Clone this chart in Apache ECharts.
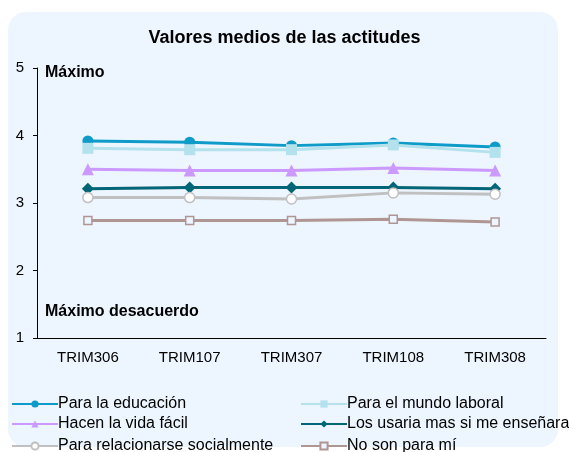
<!DOCTYPE html>
<html>
<head>
<meta charset="utf-8">
<script src="https://cdn.jsdelivr.net/npm/echarts@6/dist/echarts.min.js"></script>
<style>
  html, body { margin: 0; padding: 0; background: #fff; }
  #chart { width: 569px; height: 452px; }
</style>
</head>
<body>
<div id="chart"></div>
<script>
// trimestres
const categories = ['TRIM306', 'TRIM107', 'TRIM307', 'TRIM108', 'TRIM308']
const yTicks = [1, 2, 3, 4, 5]

const educacion = [3.92, 3.90, 3.85, 3.89, 3.83]
const laboral = [3.81, 3.79, 3.79, 3.86, 3.75]
const vidaFacil = [3.50, 3.48, 3.48, 3.52, 3.48]
const usaria = [3.21, 3.23, 3.23, 3.23, 3.21]
const social = [3.08, 3.08, 3.06, 3.15, 3.13]
const noSon = [2.74, 2.74, 2.74, 2.76, 2.72]

const seriesNames = [
  'Para la educación', 'Para el mundo laboral',
  'Hacen la vida fácil', 'Los usaria mas si me enseñaran',
  'Para relacionarse socialmente', 'No son para mí'
]

const chart = echarts.init(document.getElementById('chart'))

const mkSeries = (name, data, color, symbol, size, fill) => ({
  name,
  type: 'line',
  data,
  symbol,
  symbolSize: size,
  lineStyle: { color, width: 3 },
  itemStyle: { color: fill || color, borderColor: color, borderWidth: fill ? 1.5 : 0 },
  emphasis: { disabled: true },
  z: 3
})

const font = 'Arial, "Liberation Sans", sans-serif'

// leyenda en dos columnas, una entrada por componente
const legendPos = [[6, 391], [295, 391], [6, 411], [295, 411], [6, 433], [295, 433]]
const legends = seriesNames.map((name, i) => ({
  left: legendPos[i][0],
  top: legendPos[i][1],
  itemWidth: 46,
  itemHeight: 9,
  textStyle: { fontSize: 16, color: '#000', padding: [0, 0, 0, -5] },
  data: [name]
}))

const option = {
  animation: false,
  backgroundColor: '#ffffff',
  textStyle: { fontFamily: font },
  graphic: [
    {
      type: 'rect',
      shape: { x: 8, y: 12, width: 550, height: 435, r: 18 },
      style: { fill: '#edf5fe' },
      z: -10
    },
    {
      type: 'text',
      left: 45, top: 65,
      style: { text: 'Máximo', font: 'bold 16px ' + font, fill: '#000' }
    },
    {
      type: 'text',
      left: 45, top: 304,
      style: { text: 'Máximo desacuerdo', font: 'bold 16px ' + font, fill: '#000' }
    }
  ],
  title: {
    text: 'Valores medios de las actitudes',
    left: 'center',
    top: 24,
    textStyle: { fontSize: 18, fontWeight: 'bold', color: '#000', fontFamily: font }
  },
  grid: { left: 37, right: 23, top: 68, bottom: 114 },
  xAxis: {
    type: 'category',
    data: categories,
    boundaryGap: true,
    axisLine: { lineStyle: { color: '#000', width: 1 } },
    axisTick: { length: 5, lineStyle: { color: '#000' } },
    axisLabel: { color: '#000', fontSize: 15, margin: 12 }
  },
  yAxis: {
    type: 'value',
    min: yTicks[0],
    max: yTicks[yTicks.length - 1],
    interval: 1,
    splitLine: { show: false },
    axisLine: { show: true, lineStyle: { color: '#000', width: 1 } },
    axisTick: { show: true, length: 4, lineStyle: { color: '#000' } },
    axisLabel: { color: '#000', fontSize: 15, margin: 13 }
  },
  legend: legends,
  series: [
    mkSeries(seriesNames[0], educacion, '#0f9bc8', 'circle', 11),
    mkSeries(seriesNames[1], laboral, '#b3e1ec', 'rect', 11),
    mkSeries(seriesNames[2], vidaFacil, '#cc99ff', 'triangle', 12),
    mkSeries(seriesNames[3], usaria, '#006677', 'diamond', 12),
    mkSeries(seriesNames[4], social, '#c0c0c0', 'circle', 10, '#ffffff'),
    mkSeries(seriesNames[5], noSon, '#b09693', 'rect', 8, '#edf5fe')
  ]
}

chart.setOption(option)
</script>
</body>
</html>
